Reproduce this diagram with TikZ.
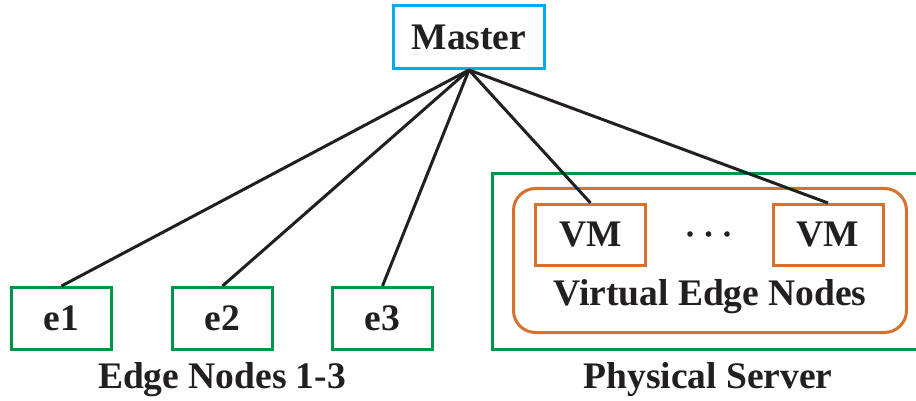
\documentclass[tikz,border=0pt]{standalone}
\usepackage{fontspec}
\setmainfont{Liberation Serif}
\definecolor{masterblue}{RGB}{0,172,236}
\definecolor{edgegreen}{RGB}{0,148,72}
\definecolor{vmorange}{RGB}{215,114,44}
\definecolor{ink}{RGB}{35,31,32}
\tikzset{
  lbl/.style={font=\fontsize{37.5}{40}\selectfont\bfseries, text=ink, inner sep=0pt},
  box/.style={draw, line width=3pt, lbl, minimum height=62pt},
  link/.style={draw=ink, line width=3pt},
}
\begin{document}
\begin{tikzpicture}[x=1pt, y=-1pt]
  \clip (0,0) rectangle (916,401);
  \fill[white] (0,0) rectangle (916,401);

  % physical server and its virtual edge nodes
  \draw[edgegreen, line width=3pt] (492.5,173.5) rectangle (940,349.5);
  \draw[vmorange, line width=3pt, rounded corners=22pt] (513.5,188.5) rectangle (906.5,332.5);

  % nodes
  \node[box, draw=masterblue, minimum width=151pt, minimum height=63pt] (master) at (469,37) {Master};
  \node[box, draw=edgegreen, minimum width=100pt] (e1) at (61.5,318.5) {e1};
  \node[box, draw=edgegreen, minimum width=100pt] (e2) at (222.5,318.5) {e2};
  \node[box, draw=edgegreen, minimum width=100pt] (e3) at (382.5,318.5) {e3};
  \node[box, draw=vmorange, minimum width=110pt, minimum height=61pt] (vm1) at (590.5,235) {VM};
  \node[box, draw=vmorange, minimum width=110pt, minimum height=61pt] (vm2) at (828,235) {VM};

  % ellipsis between the VMs
  \foreach \dx in {690,708.5,727} \fill[ink] (\dx,234) circle (2.8pt);

  % captions
  \node[lbl] (vlabel) at (710,297) {Virtual Edge Nodes};
  \node[lbl] (elabel) at (222,380) {Edge Nodes 1-3};
  \node[lbl] (plabel) at (708,380) {Physical Server};

  % connections from the master
  \foreach \t in {e1,e2,e3,vm1,vm2}
    \draw[link] (master.south) -- (\t.north);
\end{tikzpicture}
\end{document}
